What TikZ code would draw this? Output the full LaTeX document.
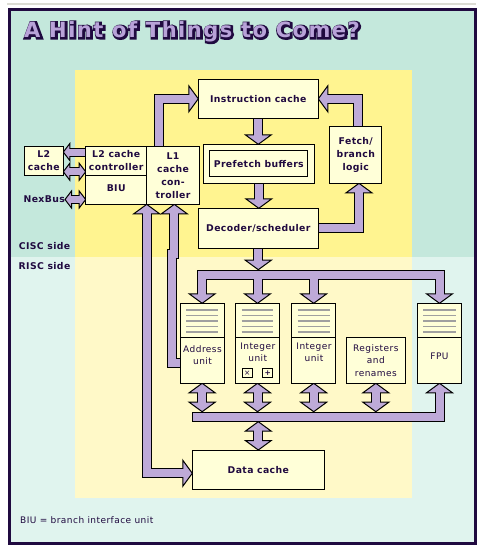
\documentclass[tikz,border=0pt]{standalone}
\usepackage{fontspec}
\setmainfont{DejaVu Sans}
\newfontfamily\lblfont{DejaVu Sans}[LetterSpace=4]
\newfontfamily\regfont{DejaVu Sans}[LetterSpace=5]
\newfontfamily\ttlfont{DejaVu Sans Bold}[LetterSpace=7]
\newfontfamily\ttlfontO{DejaVu Sans Bold}[LetterSpace=7,FakeBold=16]
\usetikzlibrary{calc}
\definecolor{mintA}{HTML}{C4E8DC}
\definecolor{mintB}{HTML}{E0F4EE}
\definecolor{yelA}{HTML}{FFF490}
\definecolor{yelB}{HTML}{FFF9C8}
\definecolor{boxc}{HTML}{FFFFD8}
\definecolor{lav}{HTML}{BEAAD8}
\definecolor{txt}{HTML}{200A40}
\definecolor{frame}{HTML}{200A40}
\definecolor{grayl}{HTML}{A0A0A0}
\definecolor{topline}{HTML}{DCDCD4}
\definecolor{lavT}{HTML}{B8A2D8}
\pgfdeclarelayer{bg}
\pgfdeclarelayer{tO}
\pgfdeclarelayer{hd}
\pgfdeclarelayer{tI}
\pgfsetlayers{bg,tO,hd,tI,main}
\newcommand\hD[1]{\filldraw[headS] (#1) -- ++(-13,-9.5) -- ++(26,0) -- cycle;}
\newcommand\hU[1]{\filldraw[headS] (#1) -- ++(-13,9.5) -- ++(26,0) -- cycle;}
\newcommand\hR[1]{\filldraw[headS] (#1) -- ++(-9.5,-13) -- ++(0,26) -- cycle;}
\newcommand\hL[1]{\filldraw[headS] (#1) -- ++(9.5,-13) -- ++(0,26) -- cycle;}
\newcommand\shL[1]{\filldraw[headS] (#1) -- ++(6.5,-8.5) -- ++(0,17) -- cycle;}
\newcommand\shR[1]{\filldraw[headS] (#1) -- ++(-6.5,-8.5) -- ++(0,17) -- cycle;}
\newcommand\tubes[2]{%
  \draw[tube#1] ($(l1.north)+(-14,0)$) |- ($(ic.west)+(-7,0)$);
  \draw[tube#1] ($(fetch.north)+(2.5,0)$) |- ($(ic.east)+(7,0)$);
  \draw[tube#1] (ic.south) -- ($(ic.south |- pfo.north)+(0,-7)$);
  \draw[tube#1] (pfo.south) -- ($(pfo.south |- dec.north)+(0,-7)$);
  \draw[tube#1] (dec.east) -| ($(fetch.south)+(3.2,7)$);
  \draw[tube#1] (dec.south) -- ($(dec.south |- tb)+(0,-12)$);
  \draw[tube#1] ($(aut.north)+(0,-7)$) |- (tb) -| ($(fput.north)+(0,-7)$);
  \draw[tube#1] (i1t.north |- tb) -- ($(i1t.north)+(0,-7)$);
  \draw[tube#1] (i2t.north |- tb) -- ($(i2t.north)+(0,-7)$);
  \foreach \n in {au,i1,i2,rr}
    \draw[tube#1] ($(\n.south)+(0,7)$) -- ($(\n.south |- bb)+(0,-12)$);
  \draw[tube#1,#2] (dc.west |- bb) -| ($(fpu.south)+(0,7)$);
  \draw[tube#1] ($(dc.north |- bb)+(0,12)$) -- ($(dc.north)+(0,-7)$);
  \draw[tube#1] ($(l1.south west)+(0,7)$) |- ($(dc.west)+(-7,3.6)$);
  \draw[tube#1] ($(l1.south)+(1.3,7)$) -- ++(0,43) -- ++(-2.6,0) |- ($(au.west)+(0,2.8)$);
  \draw[stube#1] ($(l2c.west)+(0,-8.8)$) -- ($(l2.east)+(4.5,-8.8)$);
  \draw[stube#1] ($(l2.east)+(4.5,10.9)$) -- ($(l2c.west)+(-4.5,10.9)$);
  \draw[stube#1] ($(nex.east)+(4.5,0)$) -- ($(nex.east -| biu.west)+(-4.5,0)$);
}
\begin{document}
\begin{tikzpicture}[x=1pt,y=-1pt,
  box/.style={draw=black, line width=1pt, fill=boxc, inner sep=0pt, outer sep=0pt, align=center, text=txt,
    font=\lblfont\bfseries\fontsize{9.3}{13}\selectfont},
  ubox/.style={draw=black, line width=1pt, fill=boxc, inner sep=0pt, outer sep=0pt, align=center, text=txt,
    font=\regfont\fontsize{9}{12.2}\selectfont},
  ulbl/.style={inner sep=0pt, align=center, text=txt, font=\regfont\fontsize{9}{12.2}\selectfont},
  blbl/.style={inner sep=0pt, align=center, text=txt, font=\lblfont\bfseries\fontsize{9.3}{13}\selectfont},
  tubeO/.style={line width=10pt, draw=black, line join=miter, line cap=butt},
  tubeI/.style={line width=8pt, draw=lav, line join=miter, line cap=butt},
  stubeO/.style={line width=9pt, draw=black, line join=miter, line cap=butt},
  stubeI/.style={line width=7pt, draw=lav, line join=miter, line cap=butt},
  headS/.style={fill=lav, draw=black, line width=1pt, line join=miter},
  gl/.style={draw=grayl, line width=1.4pt},
  ttl/.style={anchor=base west, inner sep=0pt},
]
\useasboundingbox (0,0) rectangle (484,552);
% ---------- nodes ----------
\coordinate (tb) at (258.3,274.7);
\coordinate (bb) at (258.3,416.7);
\node[box, minimum width=120pt, minimum height=39pt] (ic) at (258.3,98.8) {Instruction cache};
\node[box, minimum width=111pt, minimum height=39pt] (pfo) at (258.8,163.8) {};
\node[box, minimum width=97.7pt, minimum height=25.7pt] (pf) at (258.8,163.8) {Prefetch buffers};
\node[box, minimum width=120pt, minimum height=40pt] (dec) at (258.3,228.3) {Decoder/scheduler};
\node[box, minimum width=51.7pt, minimum height=57.3pt] (fetch) at (355.8,154.7) {Fetch/\\branch\\logic};
\node[box, minimum width=52.6pt, minimum height=58.3pt] (l1) at (173,175.2) {L1\\cache\\con-\\troller};
\node[box, minimum width=61pt, minimum height=29.7pt] (l2c) at (116.2,160.85) {L2 cache\\controller};
\node[box, minimum width=61pt, minimum height=28.6pt] (biu) at (116.2,190) {};
\node[blbl] (biulbl) at (116.2,188) {BIU};
\node[box, minimum width=39pt, minimum height=29.7pt] (l2) at (43.8,160.85) {L2\\cache};
\node[box, minimum width=132pt, minimum height=39.3pt] (dc) at (258.3,469.65) {Data cache};
\node[blbl, anchor=east] (nex) at (65,199.5) {NexBus};
\node[blbl] (cisc) at (44.5,246) {CISC side};
\node[blbl] (risc) at (44.5,266) {RISC side};
% units
\foreach \n/\x/\w in {au/202.15/44.3, i1/257.5/43.6, i2/313.7/44, fpu/439.5/44.4}{
  \node[ubox, minimum width=\w pt, minimum height=34.4pt] (\n t) at (\x,320.5) {};
  \node[ubox, minimum width=\w pt, minimum height=45.6pt] (\n) at (\x,360.5) {};
  \foreach \k in {0,...,4}
    \draw[gl] ($(\n t.north west)+(6,6.8+5.5*\k)$) -- ($(\n t.north east)+(-6,6.8+5.5*\k)$);
}
\node[ubox, minimum width=59.7pt, minimum height=45.6pt] (rr) at (375.85,360.5) {Registers\\and\\renames};
\node[ulbl] (aulbl) at (202.5,355) {Address\\unit};
\node[ulbl] (i1lbl) at (257.8,352.5) {Integer\\unit};
\node[ulbl] (i2lbl) at (314,352.5) {Integer\\unit};
\node[ulbl] (fpulbl) at (439.5,356.7) {FPU};
\node[draw=black, line width=0.9pt, fill=boxc, inner sep=0pt, minimum width=10pt, minimum height=9.4pt,
  text=txt, font=\fontsize{7.5}{8}\selectfont] (mulb) at (247.3,373) {×};
\node[draw=black, line width=0.9pt, fill=boxc, inner sep=0pt, minimum width=10pt, minimum height=9.4pt,
  text=txt, font=\bfseries\fontsize{7.5}{8}\selectfont] (addb) at (267.7,373) {+};
\node[ulbl, anchor=west] (note) at (20,520.5) {BIU = branch interface unit};
% title: dark outlined shadow, then lavender face
\node[ttl, text=frame, font=\ttlfontO\fontsize{21}{24}\selectfont] (tshadow) at (25,38) {A Hint of Things to Come?};
\node[ttl, text=lavT, font=\ttlfont\fontsize{21}{24}\selectfont] (title) at (24,37) {A Hint of Things to Come?};
% ---------- background ----------
\begin{pgfonlayer}{bg}
  \fill[white] (0,0) rectangle (484,552);
  \draw[topline, line width=1.8pt] (7,3.8) -- (476,3.8);
  \fill[mintA] (10,10) rectangle (474,256.5);
  \fill[mintB] (10,256.5) rectangle (474,543);
  \fill[yelA] (75,70) rectangle (412,256.5);
  \fill[yelB] (75,256.5) rectangle (412,497.7);
  \draw[frame, line width=3pt] (9.5,9.2) rectangle (475,543.8);
\end{pgfonlayer}
% ---------- arrows ----------
\begin{pgfonlayer}{tO}
  \tubes{O}{}
\end{pgfonlayer}
\begin{pgfonlayer}{hd}
  \hR{ic.west}
  \hL{ic.east}
  \hD{ic.south |- pfo.north}
  \hD{pfo.south |- dec.north}
  \hU{$(fetch.south)+(3.2,0)$}
  \hD{$(dec.south |- tb)+(0,-5)$}
  \hD{aut.north}
  \hD{i1t.north}
  \hD{i2t.north}
  \hD{fput.north}
  \foreach \n in {au,i1,i2,rr}{
    \hU{\n.south}
    \hD{$(\n.south |- bb)+(0,-5)$}
  }
  \hU{fpu.south}
  \hU{$(dc.north |- bb)+(0,5)$}
  \hD{dc.north}
  \hU{l1.south west}
  \hR{$(dc.west)+(0,3.6)$}
  \hU{$(l1.south)+(1.3,0)$}
  \shL{$(l2.east)+(0,-8.8)$}
  \shL{$(l2.east)+(0,10.9)$}
  \shR{$(l2c.west)+(0,10.9)$}
  \shL{nex.east}
  \shR{nex.east -| biu.west}
\end{pgfonlayer}
\begin{pgfonlayer}{tI}
  \tubes{I}{shorten <=1pt}
\end{pgfonlayer}
\end{tikzpicture}
\end{document}
